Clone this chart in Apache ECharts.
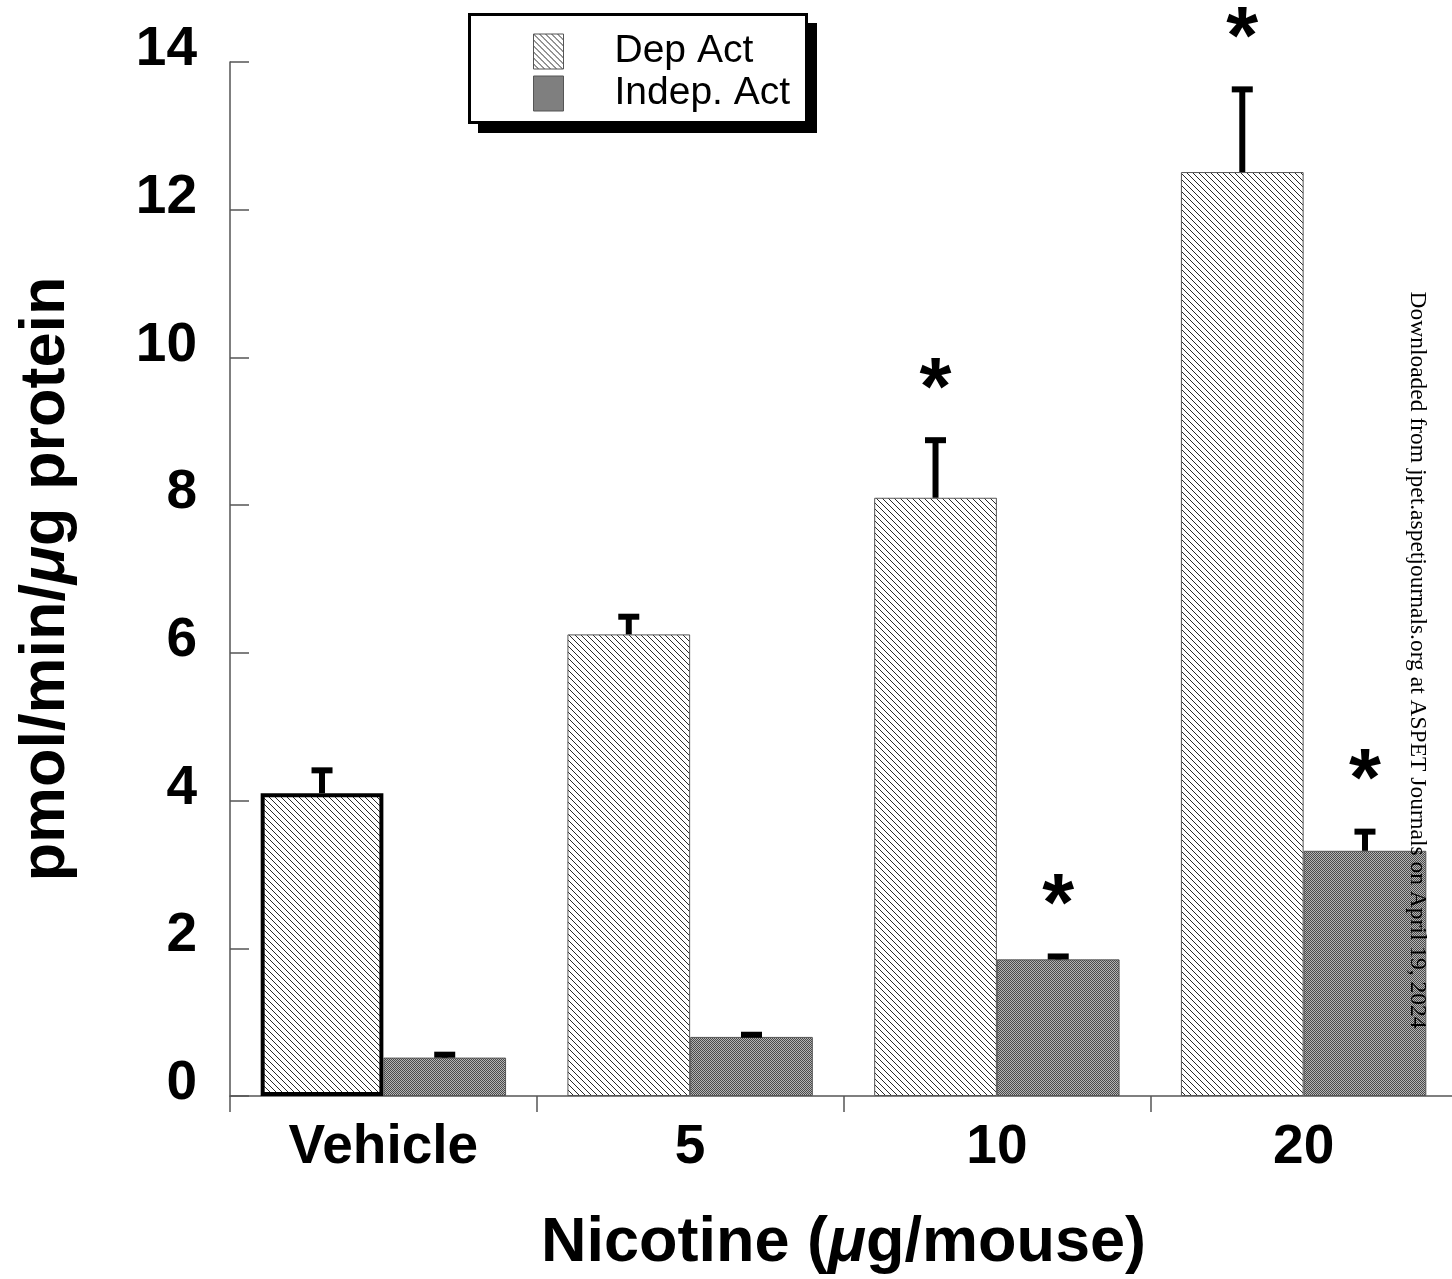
<!DOCTYPE html>
<html>
<head>
<meta charset="utf-8">
<script src="https://cdn.jsdelivr.net/npm/echarts@6/dist/echarts.min.js"></script>
<style>
html,body{margin:0;padding:0;background:#fff;}
#chart{width:1452px;height:1279px;}
</style>
</head>
<body>
<div id="chart"></div>
<script>
// ---- data ----
var categories = ['Vehicle', '5', '10', '20'];
var depAct = [4.10, 6.25, 8.10, 12.51];
var depErrTop = [4.45, 6.53, 8.92, 13.67];
var indepAct = [0.52, 0.80, 1.85, 3.32];
var indepErrTop = [0.60, 0.87, 1.93, 3.62];
var depSig = [false, false, true, true];
var indepSig = [false, false, true, true];
var yTicks = [0, 2, 4, 6, 8, 10, 12, 14];

// ---- patterns ----
function makeHatch() {
  var c = document.createElement('canvas');
  c.width = 6; c.height = 6;
  var ctx = c.getContext('2d');
  ctx.fillStyle = '#ffffff';
  ctx.fillRect(0, 0, 6, 6);
  ctx.fillStyle = '#2a2a2a';
  for (var y = 0; y < 6; y++) {
    for (var x = 0; x < 6; x++) {
      if ((x - y + 6) % 6 === 0) ctx.fillRect(x, y, 1, 1);
    }
  }
  return c;
}
function makeStipple() {
  var c = document.createElement('canvas');
  c.width = 2; c.height = 2;
  var ctx = c.getContext('2d');
  ctx.fillStyle = '#b4b4b4';
  ctx.fillRect(0, 0, 2, 2);
  ctx.fillStyle = '#4a4a4a';
  ctx.fillRect(0, 0, 1, 1);
  ctx.fillRect(1, 1, 1, 1);
  return c;
}
var hatchFill = { image: makeHatch(), repeat: 'repeat' };
var stippleFill = { image: makeStipple(), repeat: 'repeat' };

var FONT = 'Liberation Sans, Arial, Helvetica, sans-serif';

function errData(tops, means) {
  return tops.map(function (t, i) { return [i, means[i], t]; });
}
function sigData(flags, tops) {
  var out = [];
  flags.forEach(function (f, i) { if (f) out.push([i, tops[i]]); });
  return out;
}

function errRender(side) {
  return function (params, api) {
    var i = api.value(0);
    var base = api.coord([i, api.value(1)]);
    var top = api.coord([i, api.value(2)]);
    var cw = api.size([1, 0])[0];
    var x = base[0] + side * cw * 0.2;
    return {
      type: 'group',
      children: [
        { type: 'line', shape: { x1: x, y1: base[1], x2: x, y2: top[1] + 2 },
          style: { stroke: '#000', lineWidth: 6 } },
        { type: 'rect', shape: { x: x - 10.5, y: top[1], width: 21, height: 6 },
          style: { fill: '#000' } }
      ]
    };
  };
}
function sigRender(side) {
  return function (params, api) {
    var i = api.value(0);
    var top = api.coord([i, api.value(1)]);
    var cw = api.size([1, 0])[0];
    var x = top[0] + side * cw * 0.2;
    return {
      type: 'text',
      style: { text: '*', x: x, y: top[1] - 46, font: 'bold 82px ' + FONT,
        fill: '#000', textAlign: 'center', textVerticalAlign: 'middle' }
    };
  };
}

var chart = echarts.init(document.getElementById('chart'), null, { renderer: 'canvas' });
chart.setOption({
  animation: false,
  backgroundColor: '#ffffff',
  grid: { left: 230, top: 62, width: 1227, height: 1034, containLabel: false, outerBoundsMode: 'none' },
  legend: {
    left: 468, top: 13, orient: 'vertical', z: 10,
    data: ['Dep Act', 'Indep. Act'],
    icon: 'rect', itemWidth: 30, itemHeight: 35, itemGap: 3,
    padding: [19, 22, 19, 65],
    textStyle: { fontSize: 39, fontFamily: FONT, color: '#000', padding: [0, 0, 0, 46] },
    itemStyle: { borderColor: '#555', borderWidth: 1 }
  },
  xAxis: {
    type: 'category', data: categories, boundaryGap: true,
    axisLine: { lineStyle: { color: '#555', width: 1.5 } },
    axisTick: { show: true, alignWithLabel: false, inside: false, length: 16, lineStyle: { color: '#555', width: 1.5 } },
    axisLabel: { color: '#000', fontSize: 55, fontWeight: 'bold', fontFamily: FONT, margin: 24 },
    splitLine: { show: false },
    name: 'Nicotine ({i|μ}g/mouse)', nameLocation: 'middle', nameGap: 116,
    nameTextStyle: { color: '#000', fontSize: 63, fontWeight: 'bold', fontFamily: FONT,
      rich: { i: { fontSize: 63, fontWeight: 'bold', fontStyle: 'italic', fontFamily: FONT, color: '#000' } } }
  },
  yAxis: {
    type: 'value', min: 0, max: 14, interval: 2,
    axisLine: { show: true, lineStyle: { color: '#555', width: 1.5 } },
    axisTick: { show: true, inside: true, length: 19, lineStyle: { color: '#555', width: 1.5 } },
    axisLabel: { color: '#000', fontFamily: FONT, margin: 33,
      formatter: '{v|{value}}',
      rich: { v: { fontSize: 55, fontWeight: 'bold', fontFamily: FONT, color: '#000', padding: [0, 0, 24, 0] } },
      customValues: yTicks },
    splitLine: { show: false },
    name: 'pmol/min/{i|μ}g protein', nameLocation: 'middle', nameGap: 152, nameRotate: 90,
    nameTextStyle: { color: '#000', fontSize: 63, fontWeight: 'bold', fontFamily: FONT,
      rich: { i: { fontSize: 63, fontWeight: 'bold', fontStyle: 'italic', fontFamily: FONT, color: '#000' } } }
  },
  series: [
    {
      name: 'Dep Act', type: 'bar', barWidth: '40%', barGap: '0%',
      itemStyle: { color: hatchFill, borderColor: '#555', borderWidth: 1 },
      data: depAct.map(function (v, i) {
        return i === 0 ? { value: v, itemStyle: { borderColor: '#000', borderWidth: 4 } } : v;
      }),
      z: 2
    },
    {
      name: 'Indep. Act', type: 'bar', barWidth: '40%', barGap: '0%',
      itemStyle: { color: stippleFill, borderColor: '#555', borderWidth: 1 },
      data: indepAct,
      z: 2
    },
    { type: 'custom', renderItem: errRender(-1), data: errData(depErrTop, depAct), z: 3, silent: true },
    { type: 'custom', renderItem: errRender(1), data: errData(indepErrTop, indepAct), z: 3, silent: true },
    { type: 'custom', renderItem: sigRender(-1), data: sigData(depSig, depErrTop), z: 3, silent: true },
    { type: 'custom', renderItem: sigRender(1), data: sigData(indepSig, indepErrTop), z: 3, silent: true }
  ],
  graphic: [
    { type: 'rect', z: 1, shape: { x: 478, y: 23, width: 339, height: 110 }, style: { fill: '#000' } },
    { type: 'rect', z: 2, shape: { x: 469.5, y: 14.5, width: 337, height: 108 },
      style: { fill: '#fff', stroke: '#000', lineWidth: 3 } },
    {
      type: 'text', x: 1417, y: 660, rotation: -Math.PI / 2, z: 100,
      style: { text: 'Downloaded from jpet.aspetjournals.org at ASPET Journals on April 19, 2024',
        font: '23.5px Liberation Serif, Times New Roman, serif', fill: '#000',
        textAlign: 'center', textVerticalAlign: 'middle' }
    }
  ]
});
</script>
</body>
</html>
